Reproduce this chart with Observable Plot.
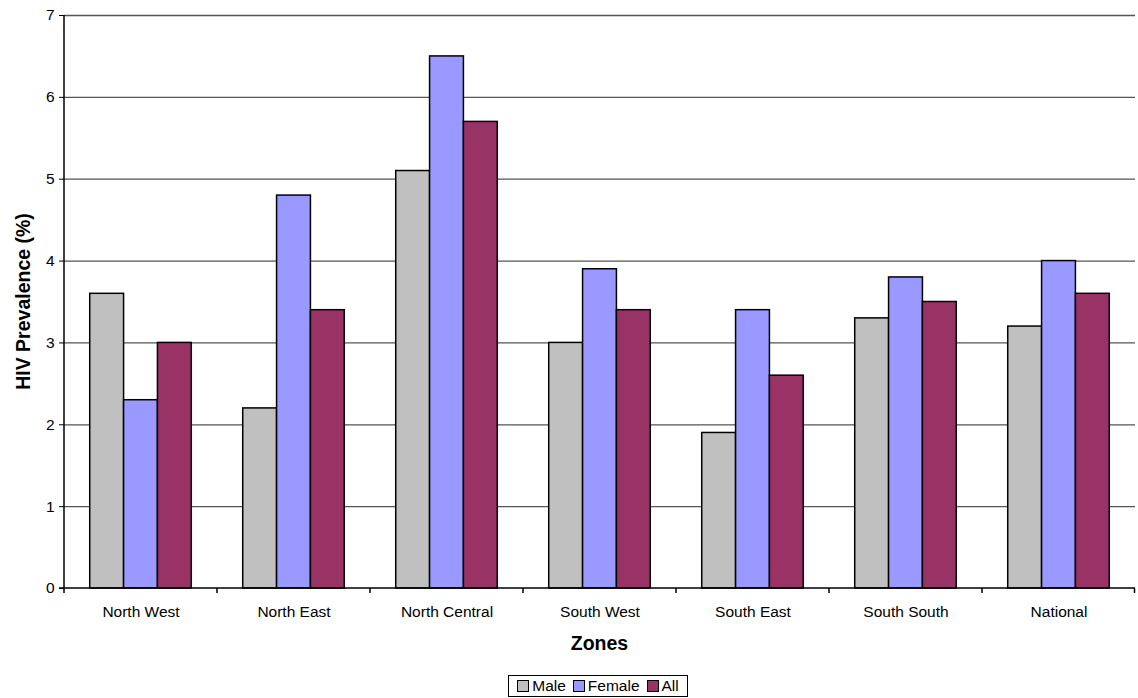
<!DOCTYPE html>
<html>
<head>
<meta charset="utf-8">
<script src="https://cdn.jsdelivr.net/npm/d3@7"></script>
<script src="https://cdn.jsdelivr.net/npm/@observablehq/plot@0.6"></script>
<style>
  body { margin: 0; background: #fff; font-family: "Liberation Sans", Arial, sans-serif; }
  #wrap { position: relative; width: 1138px; height: 698px; }
  #legend { position: absolute; left: 508px; top: 675px; width: 178px; height: 20px; border: 1px solid #000;
    display: flex; align-items: center; justify-content: center; gap: 7px; font-size: 15.5px; color: #000; background: #fff; }
  #legend span.item { display: flex; align-items: center; gap: 3px; }
  #legend span.sw { display: inline-block; width: 10px; height: 10px; border: 1px solid #000; }
</style>
</head>
<body>
<div id="wrap"></div>
<script>
const zones = ["North West", "North East", "North Central", "South West", "South East", "South South", "National"];
const series = ["Male", "Female", "All"];
const male   = [3.6, 2.2, 5.1, 3.0, 1.9, 3.3, 3.2];
const female = [2.3, 4.8, 6.5, 3.9, 3.4, 3.8, 4.0];
const all    = [3.0, 3.4, 5.7, 3.4, 2.6, 3.5, 3.6];
const colors = ["#c0c0c0", "#9999ff", "#993366"];
const yTicks = [0, 1, 2, 3, 4, 5, 6, 7];

const rows = [];
zones.forEach((z, i) => {
  rows.push({zone: z, series: "Male", value: male[i]});
  rows.push({zone: z, series: "Female", value: female[i]});
  rows.push({zone: z, series: "All", value: all[i]});
});

const chart = Plot.plot({
  width: 1138,
  height: 672,
  marginLeft: 61,
  marginRight: 1,
  marginTop: 15,
  marginBottom: 84,
  style: {fontFamily: "Liberation Sans, Arial, sans-serif", fontSize: "15.5px", color: "#000", background: "#fff"},
  fx: {domain: zones, padding: 0, label: null, tickSize: 0, tickPadding: 17},
  x: {domain: series, paddingInner: 0, paddingOuter: 0.76, round: false, axis: null},
  y: {domain: [0, 7], ticks: yTicks, tickFormat: d3.format("d"), tickSize: 5, tickPadding: 5, label: null},
  color: {domain: series, range: colors},
  marks: [
    Plot.ruleY(yTicks.slice(1), {stroke: "#555", strokeWidth: 1.3}),
    Plot.barY(rows, {fx: "zone", x: "series", y: "value", fill: "series", stroke: "#000", strokeWidth: 1.5})
  ]
});

document.getElementById("wrap").appendChild(chart);

// Axis lines and category boundary ticks derived from the scales
const svg = d3.select(chart);
const fx = chart.scale("fx");
const y = chart.scale("y");
const y0 = y.apply(0), y7 = y.apply(7);
const left = fx.apply(zones[0]);
const step = fx.apply(zones[1]) - fx.apply(zones[0]);
const right = fx.apply(zones[zones.length - 1]) + step;
const g = svg.append("g").attr("stroke", "#000").attr("stroke-width", 1.5);
g.append("line").attr("x1", left).attr("x2", left).attr("y1", y7).attr("y2", y0);
g.append("line").attr("x1", left - 5).attr("x2", right).attr("y1", y0).attr("y2", y0);
zones.forEach(z => {
  const xb = fx.apply(z);
  g.append("line").attr("x1", xb).attr("x2", xb).attr("y1", y0).attr("y2", y0 + 5);
});
g.append("line").attr("x1", right - 0.5).attr("x2", right - 0.5).attr("y1", y0).attr("y2", y0 + 5);

// Axis titles
svg.append("text").attr("x", (left + right) / 2).attr("y", y0 + 62)
  .attr("text-anchor", "middle").attr("font-weight", "bold").attr("font-size", "19.5px").text("Zones");
svg.append("text").attr("transform", `translate(23,${(y0 + y7) / 2}) rotate(-90)`)
  .attr("text-anchor", "middle").attr("dominant-baseline", "central")
  .attr("font-weight", "bold").attr("font-size", "19.5px").text("HIV Prevalence (%)");

// Legend
const legend = document.createElement("div");
legend.id = "legend";
series.forEach((s, i) => {
  const item = document.createElement("span");
  item.className = "item";
  const sw = document.createElement("span");
  sw.className = "sw";
  sw.style.background = colors[i];
  item.appendChild(sw);
  item.appendChild(document.createTextNode(s));
  legend.appendChild(item);
});
document.getElementById("wrap").appendChild(legend);
</script>
</body>
</html>
